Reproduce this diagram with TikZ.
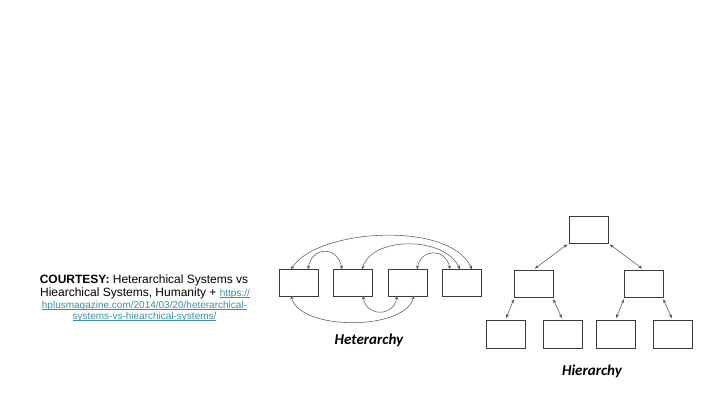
\documentclass[tikz,border=0pt]{standalone}
\usepackage{fontspec}
\setmainfont{Liberation Sans}
\newfontfamily\labelfont{Carlito}
\usetikzlibrary{arrows.meta}
\definecolor{linkc}{HTML}{3A8FA8}
\definecolor{boxc}{HTML}{3A3A3A}
\definecolor{arrc}{HTML}{5A5A5A}
\newcommand\ulnk[1]{\setbox0\hbox{#1}\rlap{\textcolor{linkc}{\rule[-1.4pt]{\wd0}{0.55pt}}}\box0}
\begin{document}
\begin{tikzpicture}[x=1pt,y=-1pt,
  hbox/.style={draw=boxc,line width=0.9pt,minimum width=39pt,minimum height=27pt,inner sep=0pt},
  conn/.style={draw=arrc,line width=0.55pt,{Stealth[length=4pt,width=3pt]}-{Stealth[length=4pt,width=3pt]}},
  title/.style={font=\labelfont\bfseries\itshape\fontsize{15}{17}\selectfont},
  courtesy/.style={font=\fontsize{12}{13}\selectfont,inner sep=0pt},
  link/.style={font=\fontsize{10}{11}\selectfont,text=linkc,inner sep=0pt}
]
\useasboundingbox (0,0) rectangle (720,405);
% Courtesy text
\node[courtesy] (c1) at (144,280) {\textbf{COURTESY:} Heterarchical Systems vs};
\node[courtesy] (c2) at (145,293.5) {Hiearchical Systems, Humanity + \textcolor{linkc}{\fontsize{10}{11}\selectfont\ulnk{https://}}};
\node[link] (c3) at (144.5,305.5) {\ulnk{hplusmagazine.com/2014/03/20/heterarchical-}};
\node[link] (c4) at (144.5,316.5) {\ulnk{systems-vs-hiearchical-systems/}};
% Heterarchy
\node[hbox] (h1) at (298.5,282.5) {};
\node[hbox] (h2) at (353,282.5) {};
\node[hbox] (h3) at (407.5,282.5) {};
\node[hbox] (h4) at (461.5,282.5) {};
\draw[conn] ([xshift=-7.5pt,yshift=-1pt]h1.north) .. controls (316,229) and (450,220) .. ([xshift=10.5pt,yshift=-1pt]h4.north);
\draw[conn] ([xshift=9.5pt,yshift=-1pt]h1.north) .. controls (312,246) and (338,246) .. ([xshift=-11pt,yshift=-1pt]h2.north);
\draw[conn] ([xshift=9pt,yshift=-1pt]h2.north) .. controls (372,236) and (445,236) .. ([xshift=-1.5pt,yshift=-1pt]h4.north);
\draw[conn] ([xshift=9.5pt,yshift=-1pt]h3.north) .. controls (421,248) and (446,248) .. ([xshift=-11.5pt,yshift=-1pt]h4.north);
\draw[conn] ([xshift=-7.5pt,yshift=1pt]h1.south) .. controls (300,331) and (405,331) .. ([xshift=6.5pt,yshift=1pt]h3.south);
\draw[conn] ([xshift=10pt,yshift=1pt]h2.south) .. controls (366,317) and (394,317) .. ([xshift=-10.5pt,yshift=1pt]h3.south);
\node[title] (ht) at (369,340) {Heterarchy};
% Hierarchy
\node[hbox] (t) at (588.5,229.5) {};
\node[hbox] (ml) at (533.5,283.5) {};
\node[hbox] (mr) at (643.5,283.5) {};
\node[hbox,minimum height=28pt] (b1) at (505.5,334) {};
\node[hbox,minimum height=28pt] (b2) at (562.5,334) {};
\node[hbox,minimum height=28pt] (b3) at (615.5,334) {};
\node[hbox,minimum height=28pt] (b4) at (672.5,334) {};
\draw[conn,shorten <=1.5pt,shorten >=1.5pt] (t.south west) -- (ml.north);
\draw[conn,shorten <=1.5pt,shorten >=1.5pt] (t.south east) -- (mr.north);
\draw[conn,shorten <=2pt,shorten >=1.5pt] ([xshift=1pt]ml.south west) -- (b1.north);
\draw[conn,shorten <=2pt,shorten >=1.5pt] ([xshift=-1pt]ml.south east) -- (b2.north);
\draw[conn,shorten <=2pt,shorten >=1.5pt] ([xshift=1pt]mr.south west) -- (b3.north);
\draw[conn,shorten <=2pt,shorten >=1.5pt] ([xshift=-1pt]mr.south east) -- (b4.north);
\node[title] (hh) at (592,371) {Hierarchy};
\end{tikzpicture}
\end{document}
